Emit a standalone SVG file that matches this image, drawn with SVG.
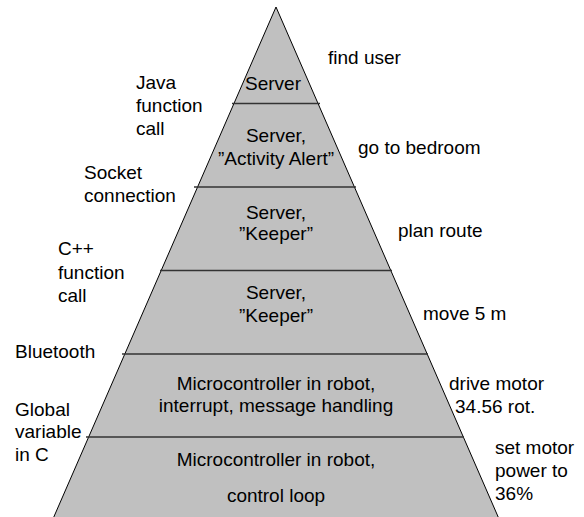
<svg xmlns="http://www.w3.org/2000/svg" width="584" height="517" viewBox="0 0 584 517">
<style>
text{font-family:"Liberation Sans",Arial,sans-serif;font-size:19px;fill:#000}
.c{text-anchor:middle}
.div{stroke:#333;stroke-width:1.5}
</style>
<rect width="584" height="517" fill="#fff"/>
<polygon points="276,7 499.5,520 52.5,520" fill="#c0c0c0" stroke="#000" stroke-width="1"/>
<g id="connectors">
<line class="div" x1="232" y1="103.5" x2="320" y2="103.5"/>
<line class="div" x1="194" y1="187" x2="356" y2="187"/>
<line class="div" x1="160" y1="270.5" x2="392" y2="270.5"/>
<line class="div" x1="122" y1="354" x2="428" y2="354"/>
<line class="div" x1="86" y1="437" x2="464" y2="437"/>
</g>
<g id="level1"><text class="c" x="273" y="90">Server</text></g>
<g id="level2"><text class="c" x="276" y="142">Server,</text><text class="c" x="276" y="165">”Activity Alert”</text></g>
<g id="level3"><text class="c" x="276" y="219">Server,</text><text class="c" x="276" y="240">”Keeper”</text></g>
<g id="level4"><text class="c" x="276" y="299">Server,</text><text class="c" x="276" y="322">”Keeper”</text></g>
<g id="level5"><text class="c" x="276" y="390">Microcontroller in robot,</text><text class="c" x="276" y="412">interrupt, message handling</text></g>
<g id="level6"><text class="c" x="276" y="466">Microcontroller in robot,</text><text class="c" x="276" y="502">control loop</text></g>
<g id="left-labels">
<text x="136" y="89">Java</text><text x="136" y="112">function</text><text x="136" y="135">call</text>
<text x="84" y="179">Socket</text><text x="84" y="202">connection</text>
<text x="58" y="255">C++</text><text x="58" y="279">function</text><text x="58" y="302">call</text>
<text x="15" y="358">Bluetooth</text>
<text x="15" y="416">Global</text><text x="15" y="438">variable</text><text x="15" y="461">in C</text>
</g>
<g id="right-labels">
<text x="328" y="64">find user</text>
<text x="358" y="154">go to bedroom</text>
<text x="398" y="237">plan route</text>
<text x="423" y="320">move 5 m</text>
<text x="449" y="390">drive motor</text><text x="455" y="413">34.56 rot.</text>
<text x="495" y="454">set motor</text><text x="495" y="477">power to</text><text x="495" y="500">36%</text>
</g>
</svg>
